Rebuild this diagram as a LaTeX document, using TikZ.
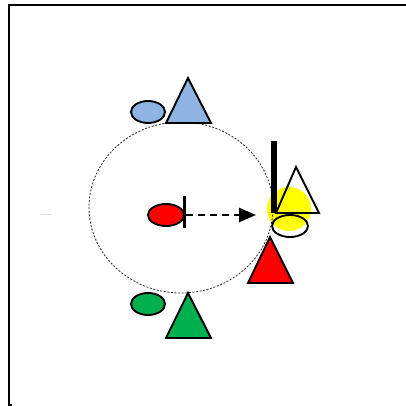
\documentclass[tikz,border=0pt]{standalone}
\usetikzlibrary{arrows.meta}
\definecolor{skyblue}{HTML}{8EB4E3}
\definecolor{leafgreen}{HTML}{00B050}
\pgfdeclareradialshading{glow}{\pgfpoint{0bp}{0bp}}{color(0bp)=(yellow); color(33bp)=(yellow); color(50bp)=(white)}

\begin{document}
\begin{tikzpicture}[x=1pt, y=-1pt,
			shp/.style={draw=black, line width=1.9pt, line join=miter},
			orbit/.style={draw=black!85, line width=0.8pt, dash pattern=on 2pt off 1.6pt},
			move/.style={line width=2.6pt, dash pattern=on 7pt off 5pt,
				-{Triangle[length=17pt, width=14pt]}}]
			\useasboundingbox (0,0) rectangle (406,406);
			% frame
			\draw[line width=2pt] (406,5) -- (9,5) -- (9,405) -- (12,405);
			\draw[black!12, line width=1pt] (40,214) -- (52,214);
			% glow behind the white pair
			\shade[shading=glow] (289,209) circle (22);
			% orbit
			\draw[orbit] (181,207.5) ellipse (92 and 85.5);
			% top pair
			\draw[shp, fill=skyblue] (148,112) ellipse (17 and 11);
			\draw[shp, fill=skyblue] (188,78) -- (211,123) -- (166,123) -- cycle;
			% centre and move
			\draw[shp, fill=red] (166,215) ellipse (18 and 11);
			\draw[line width=3pt] (184,196) -- (184,228);
			\coordinate (src) at (186,215);
			\coordinate (tgt) at (256,215);
			\draw[move] (src) -- (tgt);
			% wall and right group
			\fill[black] (271,141) rectangle (277,213);
			\draw[shp] (296,167) -- (319,213) -- (276,213) -- cycle;
			\draw[shp] (290,226) ellipse (18 and 11);
			\draw[shp, fill=red] (270,237) -- (293,283) -- (248,283) -- cycle;
			% bottom pair
			\draw[shp, fill=leafgreen] (148,304) ellipse (17 and 11);
			\draw[shp, fill=leafgreen] (188,293) -- (211,338) -- (166,338) -- cycle;
		\end{tikzpicture}
\end{document}
